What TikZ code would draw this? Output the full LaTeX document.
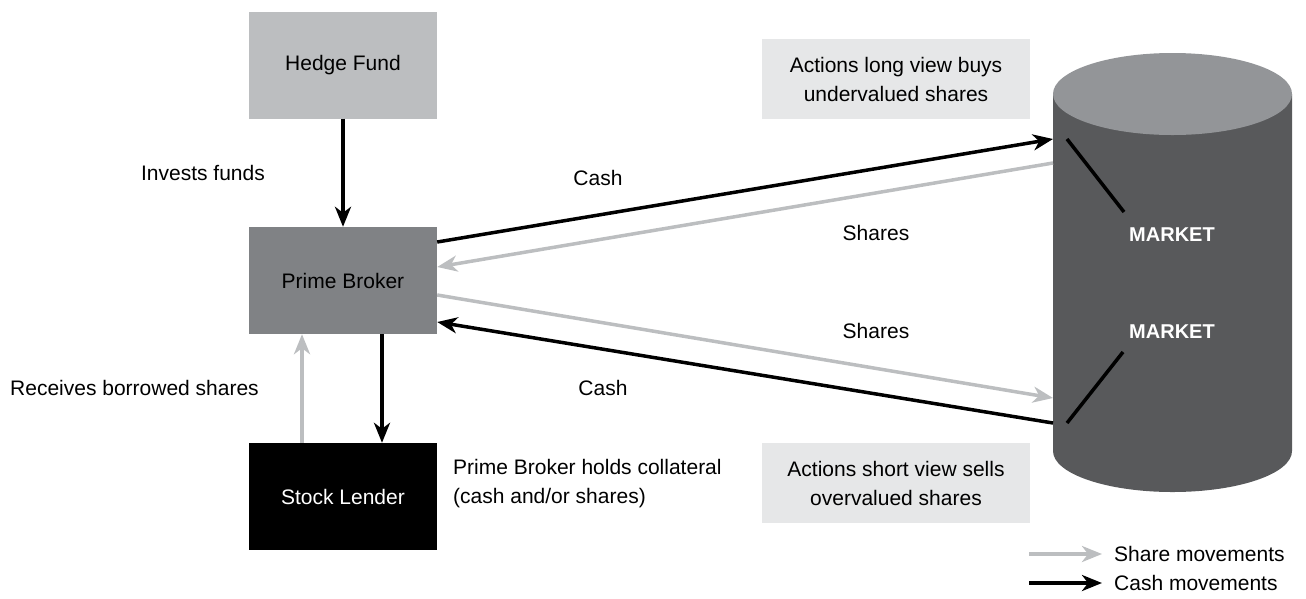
\documentclass[tikz,border=0pt]{standalone}
\usepackage{fontspec}
\setmainfont{Liberation Sans}
\usetikzlibrary{arrows.meta,calc}
\definecolor{lightbox}{HTML}{BCBEC0}
\definecolor{midbox}{HTML}{808285}
\definecolor{notebox}{HTML}{E6E7E8}
\definecolor{drumbody}{HTML}{58595B}
\definecolor{drumtop}{HTML}{939598}
\definecolor{shareline}{HTML}{BCBEC0}
\begin{document}
\begin{tikzpicture}[x=1pt,y=-1pt,
  font=\fontsize{21}{25}\selectfont,
  party/.style={minimum width=188pt, minimum height=107pt, inner sep=0pt},
  note/.style={fill=notebox, minimum width=268pt, minimum height=80pt, inner sep=0pt, align=center},
  label/.style={inner sep=0pt},
  tip/.style={-{Stealth[length=20pt,width=16pt,inset=6pt]}},
  cash/.style={tip, draw=black, line width=3.5pt},
  share/.style={tip, draw=shareline, line width=3.5pt},
  tick/.style={draw=black, line width=3.5pt}]
\useasboundingbox (0,0) rectangle (1306,598);

% parties
\node[party, fill=lightbox] (hf) at (343,65) {Hedge Fund};
\node[party, fill=midbox] (pb) at (343,280.5) {Prime Broker};
\node[party, fill=black, text=white] (sl) at (343,496.5) {Stock Lender};

% market drum
\fill[drumbody] (1053,94) -- (1053,451) arc[start angle=180, end angle=0, x radius=119.5, y radius=41]
  -- (1292,94) -- cycle;
\fill[drumtop] (1172.5,94) ellipse[x radius=119.5, y radius=41];
\coordinate (m1) at (1053,139);
\coordinate (m2) at (1053,163);
\coordinate (m3) at (1053,398);
\coordinate (m4) at (1053,423);
\node[label, text=white, font=\fontsize{20}{24}\selectfont\bfseries] (mk1) at (1172,235) {MARKET};
\node[label, text=white, font=\fontsize{20}{24}\selectfont\bfseries] (mk2) at (1172,332) {MARKET};
\coordinate (t1a) at (1067,139);
\coordinate (t1b) at (1124,212);
\coordinate (t2a) at (1123,352);
\coordinate (t2b) at (1067,423);
\draw[tick] (t1a) -- (t1b);
\draw[tick] (t2a) -- (t2b);

% notes
\node[note] (long) at (896,79) {Actions long view buys\\[4pt]undervalued shares};
\node[note] (short) at (896,483) {Actions short view sells\\[4pt]overvalued shares};

% vertical flows
\draw[cash] (hf.south) -- (pb.north);
\draw[cash] ($(pb.south)+(39,0)$) -- ($(sl.north)+(39,0)$);
\draw[share] ($(sl.north)+(-41,0)$) -- ($(pb.south)+(-41,0)$);

% flows to and from the market
\draw[cash] ($(pb.east)+(0,-38.5)$) -- (m1);
\draw[share] (m2) -- ($(pb.east)+(0,-13.5)$);
\draw[share] ($(pb.east)+(0,14.5)$) -- (m3);
\draw[cash] (m4) -- ($(pb.east)+(0,41.5)$);

% labels
\node[label] (l1) at (203,173) {Invests funds};
\node[label] (l2) at (134.5,388) {Receives borrowed shares};
\node[label] (l3) at (598,178) {Cash};
\node[label] (l4) at (876,233) {Shares};
\node[label] (l5) at (876,331) {Shares};
\node[label] (l6) at (603,388) {Cash};
\node[label, anchor=west, align=left] (l7) at (453,484) {Prime Broker holds collateral\\[4pt](cash and/or shares)};

% legend
\coordinate (ls1) at (1029,554);
\coordinate (ls2) at (1102,554);
\coordinate (lc1) at (1029,583);
\coordinate (lc2) at (1102,583);
\draw[share] (ls1) -- (ls2);
\draw[cash] (lc1) -- (lc2);
\node[label, anchor=west] (lt1) at (1114,554) {Share movements};
\node[label, anchor=west] (lt2) at (1114,583) {Cash movements};
\end{tikzpicture}
\end{document}
